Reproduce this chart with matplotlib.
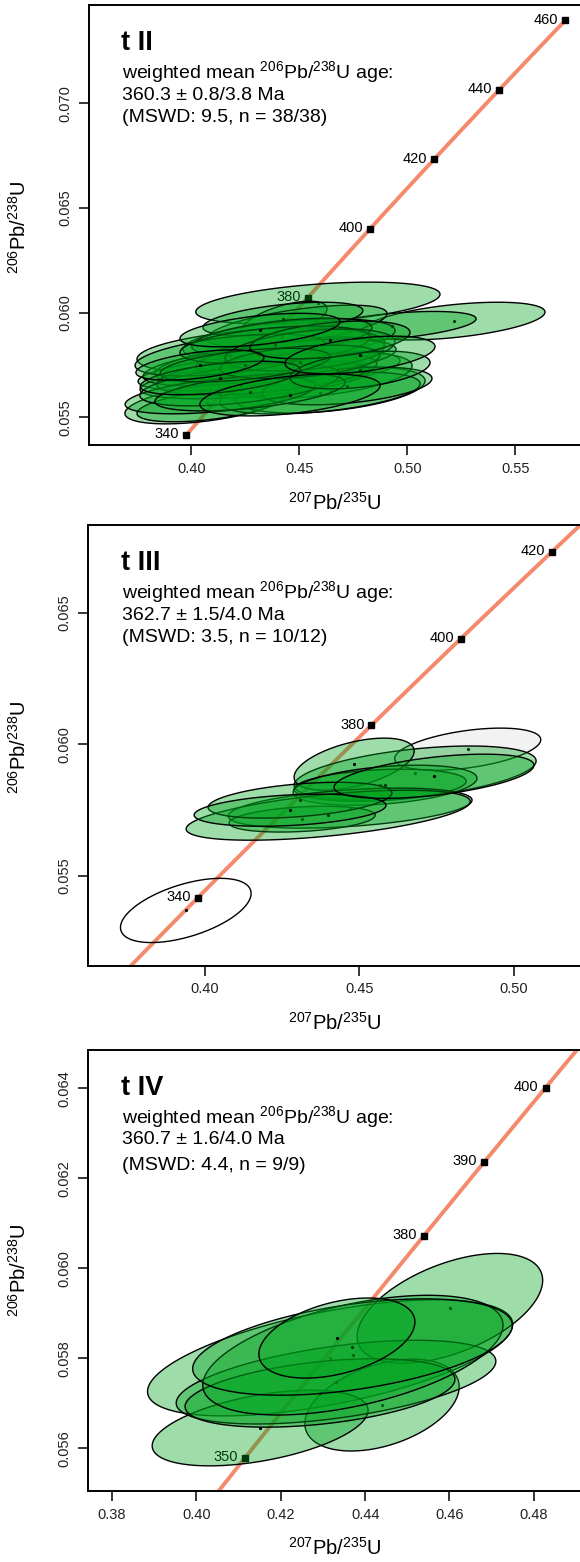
import numpy as np
import matplotlib
matplotlib.use('Agg')
import matplotlib.pyplot as plt

plt.rcParams['font.family'] = ['Liberation Sans', 'DejaVu Sans']
plt.rcParams['mathtext.fontset'] = 'custom'
plt.rcParams['mathtext.rm'] = 'Liberation Sans'
plt.rcParams['mathtext.it'] = 'Liberation Sans'
plt.rcParams['mathtext.bf'] = 'Liberation Sans:bold'

# decay constants (1/yr)
L235 = 9.8485e-10
L238 = 1.55125e-10

# ---- panel t II : 38 aliquots (centre, half extents of error ellipse, rho)
x1 = [0.4586, 0.5216, 0.4929, 0.4429, 0.4489, 0.4452, 0.4323, 0.4364, 0.4503, 0.4364,
      0.4073, 0.4087, 0.4642, 0.4573, 0.4272, 0.4295, 0.4596, 0.4194, 0.4424, 0.4419,
      0.4485, 0.4349, 0.4721, 0.4134, 0.4225, 0.4180, 0.4388, 0.4550, 0.4272, 0.4503,
      0.4249, 0.4781, 0.4642, 0.4134, 0.4040, 0.4457, 0.4781, 0.4318]
y1 = [0.06046, 0.05960, 0.05936, 0.05965, 0.05936, 0.05870, 0.05817, 0.05765, 0.05726, 0.05774,
      0.05569, 0.05559, 0.05631, 0.05702, 0.05717, 0.05679, 0.05616, 0.05741, 0.05970, 0.05884,
      0.05784, 0.05707, 0.05650, 0.05607, 0.05655, 0.05798, 0.05846, 0.05822, 0.05621, 0.05765,
      0.05750, 0.05726, 0.05870, 0.05688, 0.05750, 0.05607, 0.05798, 0.05917]
ex1 = [0.0565, 0.0421, 0.0389, 0.0199, 0.0417, 0.0491, 0.0574, 0.0287, 0.0463, 0.0532,
       0.0380, 0.0338, 0.0440, 0.0449, 0.0518, 0.0532, 0.0463, 0.0417, 0.0370, 0.0417,
       0.0463, 0.0509, 0.0393, 0.0440, 0.0463, 0.0440, 0.0440, 0.0393, 0.0440, 0.0370,
       0.0393, 0.0324, 0.0370, 0.0370, 0.0296, 0.0417, 0.0347, 0.0370]
ey1 = [0.00100, 0.00090, 0.00070, 0.00090, 0.00100, 0.00100, 0.00110, 0.00072, 0.00090, 0.00110,
       0.00100, 0.00080, 0.00110, 0.00110, 0.00090, 0.00090, 0.00100, 0.00090, 0.00080, 0.00090,
       0.00090, 0.00100, 0.00090, 0.00090, 0.00100, 0.00100, 0.00090, 0.00100, 0.00090, 0.00080,
       0.00080, 0.00090, 0.00090, 0.00080, 0.00072, 0.00100, 0.00090, 0.00080]
rho1 = [0.42, 0.48, 0.50, 0.60, 0.60, 0.45, 0.35, 0.30, 0.50, 0.60,
        0.50, 0.50, 0.40, 0.40, 0.50, 0.50, 0.45, 0.50, 0.50, 0.50,
        0.45, 0.50, 0.40, 0.50, 0.50, 0.50, 0.40, 0.40, 0.50, 0.40,
        0.50, 0.40, 0.40, 0.50, 0.50, 0.45, 0.45, 0.50]
use1 = ['ok'] * 38
ages1 = [340, 360, 380, 400, 420, 440, 460]

# ---- panel t III : 12 aliquots, 10 used
x2 = [0.3939, 0.4850, 0.4680, 0.4483, 0.4567, 0.4583, 0.4470, 0.4315, 0.4399, 0.4308, 0.4276, 0.4741]
y2 = [0.05368, 0.05981, 0.05890, 0.05924, 0.05844, 0.05844, 0.05757, 0.05715, 0.05730, 0.05787, 0.05749, 0.05878]
ex2 = [0.0211, 0.0236, 0.0391, 0.0194, 0.0278, 0.0297, 0.0394, 0.0236, 0.0459, 0.0297, 0.0310, 0.0323]
ey2 = [0.00122, 0.00080, 0.00103, 0.00099, 0.00061, 0.00076, 0.00076, 0.00049, 0.00095, 0.00068, 0.00061, 0.00084]
rho2 = [0.53, 0.45, 0.45, 0.50, 0.25, 0.35, 0.40, 0.30, 0.55, 0.40, 0.30, 0.50]
use2 = ['out', 'rej'] + ['ok'] * 10
ages2 = [340, 380, 400, 420]

# ---- panel t IV : 9 aliquots
x3 = [0.4317, 0.4601, 0.4440, 0.4151, 0.4331, 0.4293, 0.4371, 0.4370, 0.4333]
y3 = [0.05801, 0.05911, 0.05696, 0.05645, 0.05747, 0.05723, 0.05807, 0.05825, 0.05845]
ex3 = [0.0433, 0.0220, 0.0183, 0.0256, 0.0379, 0.0320, 0.0356, 0.0379, 0.0185]
ey3 = [0.00129, 0.00122, 0.00102, 0.00084, 0.00093, 0.00076, 0.00133, 0.00107, 0.00089]
rho3 = [0.58, 0.51, 0.40, 0.47, 0.50, 0.40, 0.50, 0.45, 0.40]
use3 = ['ok'] * 9
ages3 = [350, 380, 390, 400]

titles = ['t II', 't III', 't IV']
ages_txt = ['360.3 \u00b1 0.8/3.8 Ma', '362.7 \u00b1 1.5/4.0 Ma', '360.7 \u00b1 1.6/4.0 Ma']
mswd_txt = ['(MSWD: 9.5, n = 38/38)', '(MSWD: 3.5, n = 10/12)', '(MSWD: 4.4, n = 9/9)']

W, H = 580, 1562
fig = plt.figure(figsize=(W / 100, H / 100), dpi=100)

GREEN = (0.0, 0.64, 0.12, 0.38)
LINE = '#F4896B'


def fx(px):
    return px / W


def fy(py):
    return 1 - py / H


def panel(box, xlim, ylim, xticks, yticks, xs, ys, exs, eys, rhos, use, ages, trange,
          title, agetxt, mswdtxt, text_y, xlab_y, ylab_y):
    left, top, bottom = box
    ax = fig.add_axes([fx(left), fy(bottom), fx(585 - left), fy(top) - fy(bottom)])
    ax.set_xlim(xlim)
    ax.set_ylim(ylim)

    # concordia
    t = np.linspace(trange[0], trange[1], 300) * 1e6
    ax.plot(np.expm1(L235 * t), np.expm1(L238 * t), color=LINE, lw=2.8, zorder=1,
            solid_capstyle='butt')
    ta = np.array(ages) * 1e6
    ax.plot(np.expm1(L235 * ta), np.expm1(L238 * ta), 's', color='black', ms=4.2, zorder=2)
    for a, cx, cy in zip(ages, np.expm1(L235 * ta), np.expm1(L238 * ta)):
        ax.annotate(str(a), (cx, cy), xytext=(-5, 0.5), textcoords='offset points',
                    ha='right', va='center', fontsize=10.5, color='black', zorder=2)

    # error ellipses
    th = np.linspace(0, 2 * np.pi, 240)
    z = 3
    for cx, cy, ex, ey, r, u in zip(xs, ys, exs, eys, rhos, use):
        ex_ = cx + ex * np.cos(th)
        ey_ = cy + ey * (r * np.cos(th) + np.sqrt(1 - r ** 2) * np.sin(th))
        if u == 'ok':
            fc = GREEN
        elif u == 'rej':
            fc = (0.93, 0.93, 0.93, 0.7)
        else:
            fc = 'none'
        ax.fill(ex_, ey_, facecolor=fc, edgecolor='black', lw=1.0, zorder=z)
        ax.plot([cx], [cy], 'o', color='black', ms=1.3, zorder=z)
        z += 1

    ax.set_xticks(xticks)
    ax.set_xticklabels(['%.2f' % v for v in xticks])
    ax.set_yticks(yticks)
    ax.set_yticklabels(['%.3f' % v for v in yticks])
    ax.tick_params(length=7, width=1.1, labelsize=10.5, labelcolor='#222222', pad=5)
    ax.tick_params(axis='y', labelrotation=90)
    for lab in ax.get_yticklabels():
        lab.set_va('center')
    for s in ax.spines.values():
        s.set_linewidth(1.4)

    fig.text(fx(121), fy(text_y[0]), title, fontsize=19.5, fontweight='bold', va='center')
    fig.text(fx(122), fy(text_y[1]), r'weighted mean $^{206}$Pb/$^{238}$U age:', fontsize=14, va='center')
    fig.text(fx(122), fy(text_y[2]), agetxt, fontsize=14, va='center')
    fig.text(fx(122), fy(text_y[3]), mswdtxt, fontsize=14, va='center')
    fig.text(fx(335), fy(xlab_y), r'$^{207}$Pb/$^{235}$U', fontsize=14.5, ha='center', va='center')
    fig.text(fx(19), fy(ylab_y), r'$^{206}$Pb/$^{238}$U', fontsize=14.5, ha='center', va='center',
             rotation=90)
    return ax


panel((88.8, 5, 445), (0.3526, 0.5822), (0.05368, 0.0747),
      [0.40, 0.45, 0.50, 0.55], [0.055, 0.060, 0.065, 0.070],
      x1, y1, ex1, ey1, rho1, use1, ages1, (340, 460),
      titles[0], ages_txt[0], mswd_txt[0], (43, 72, 96, 118), 503, 227)

panel((88.0, 525, 965.7), (0.3623, 0.5229), (0.05158, 0.06833),
      [0.40, 0.45, 0.50], [0.055, 0.060, 0.065],
      x2, y2, ex2, ey2, rho2, use2, ages2, (300, 440),
      titles[1], ages_txt[1], mswd_txt[1], (563, 592, 616, 638), 1023, 747)

panel((87.7, 1050, 1491), (0.37421, 0.49214), (0.055051, 0.064851),
      [0.38, 0.40, 0.42, 0.44, 0.46, 0.48], [0.056, 0.058, 0.060, 0.062, 0.064],
      x3, y3, ex3, ey3, rho3, use3, ages3, (330, 420),
      titles[2], ages_txt[2], mswd_txt[2], (1088, 1117, 1140, 1165), 1548, 1270)

fig.savefig('out.png', dpi=100)
